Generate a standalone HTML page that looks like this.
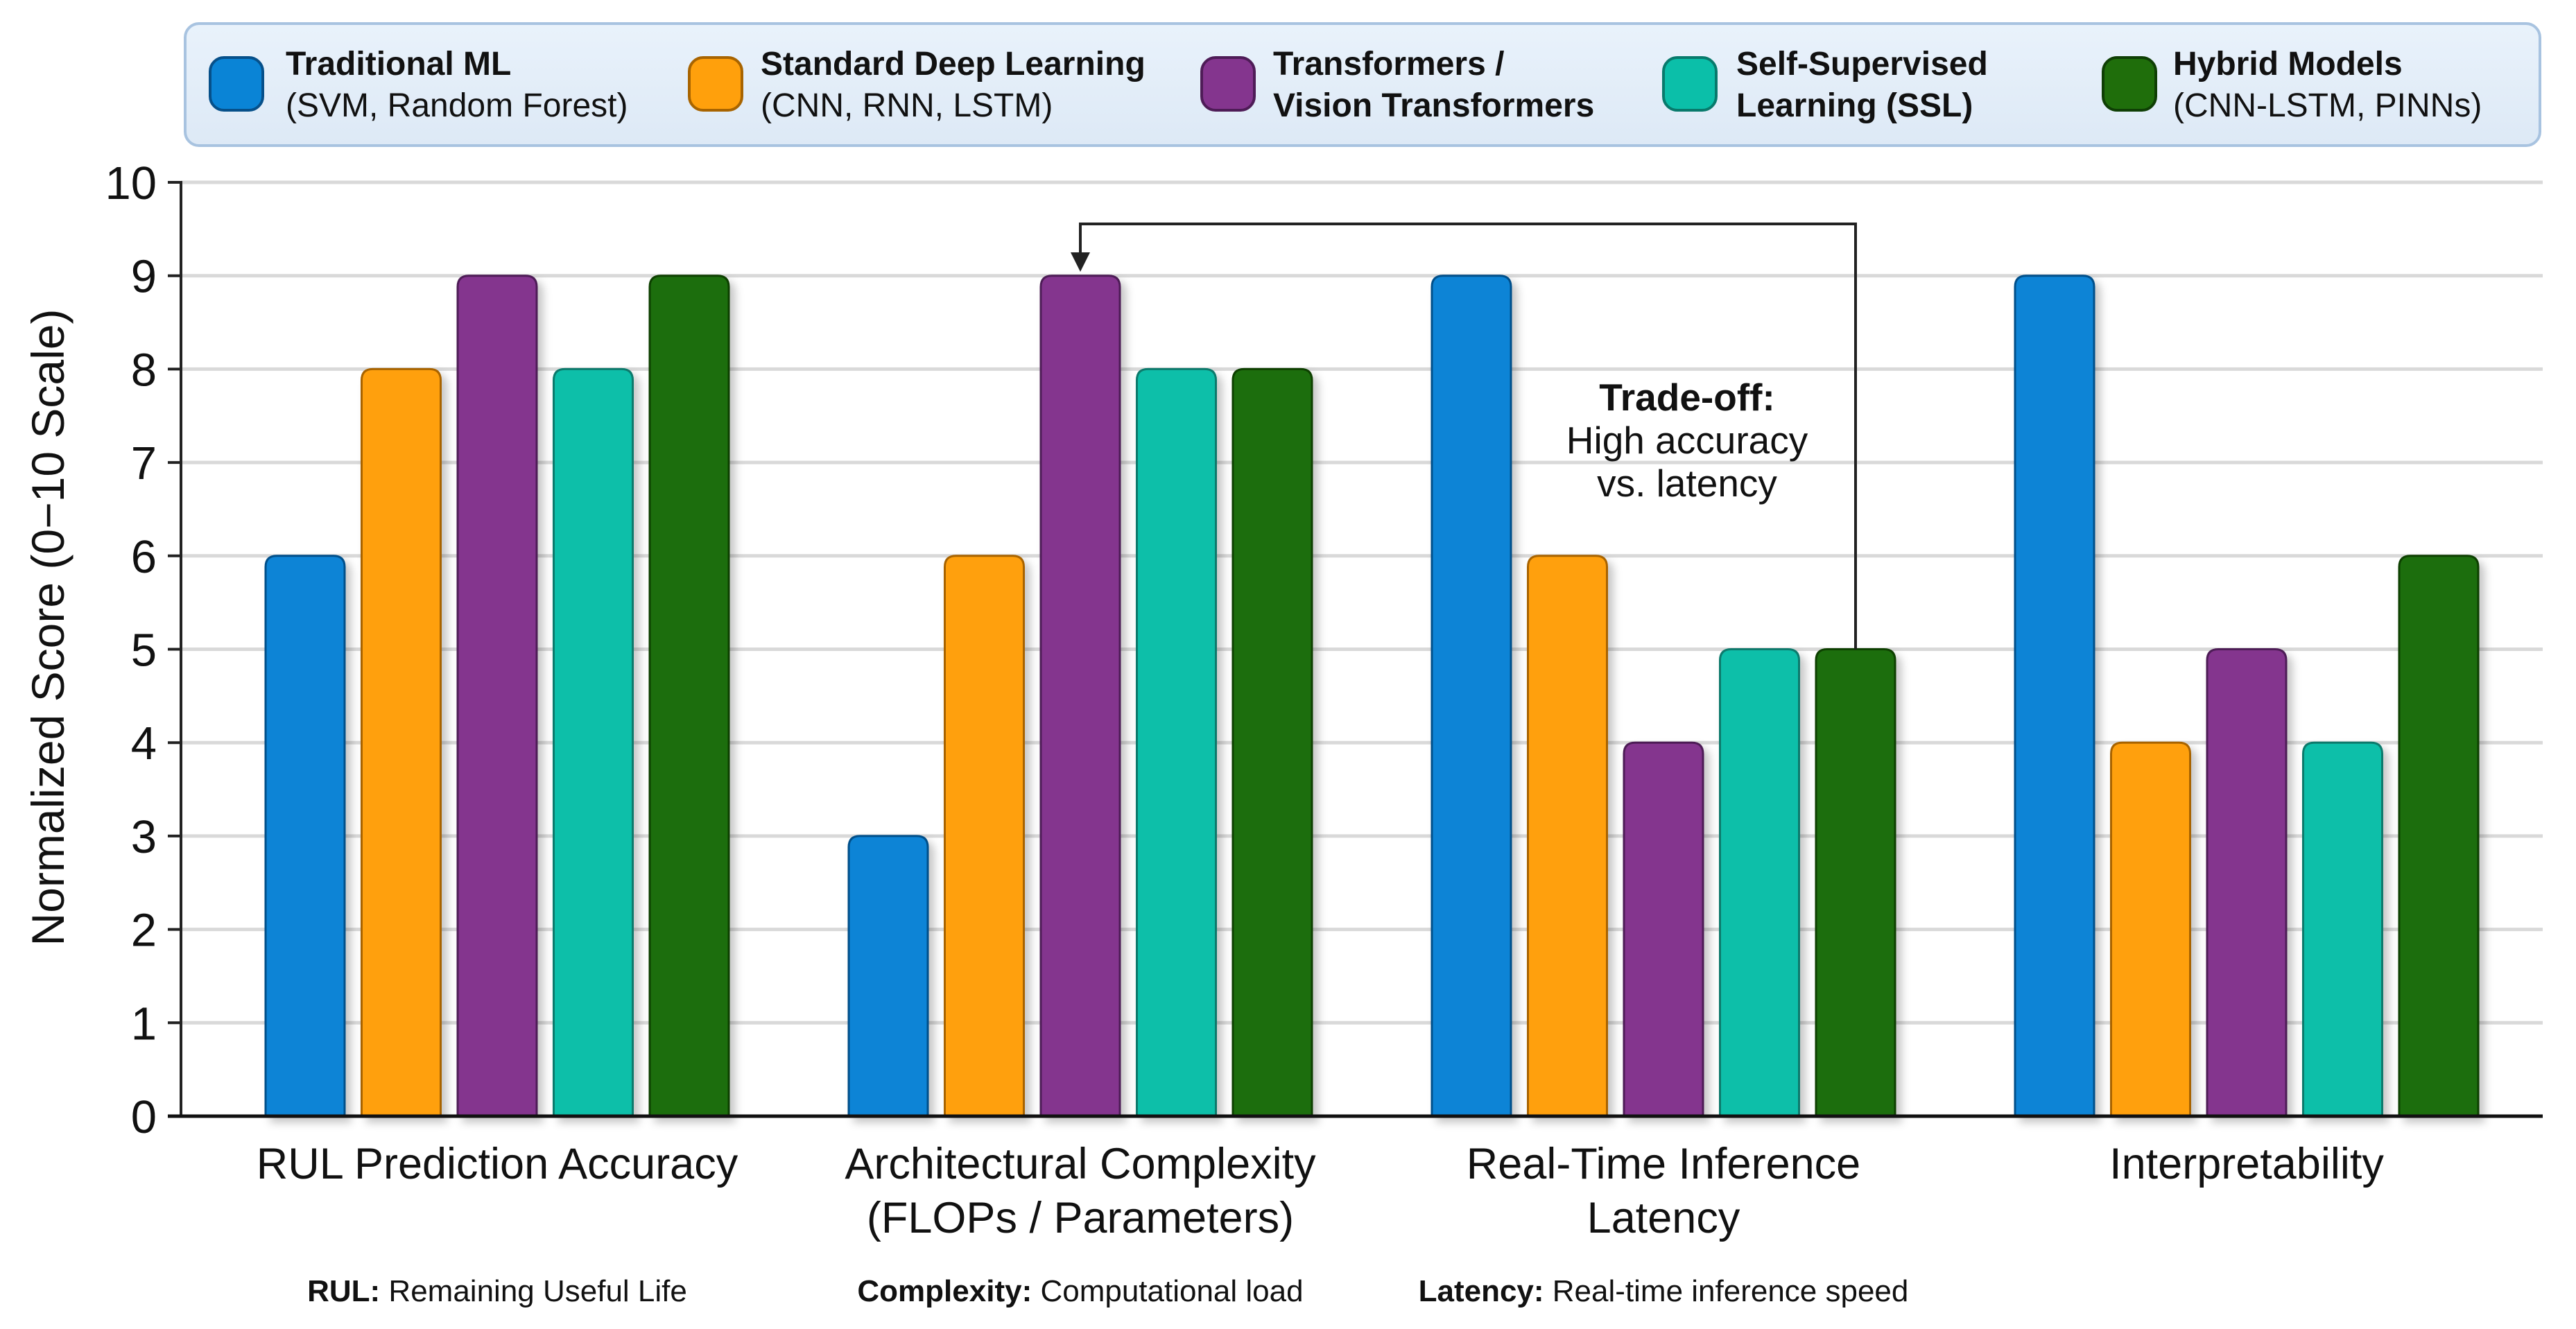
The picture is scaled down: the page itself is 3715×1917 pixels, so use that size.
<!DOCTYPE html>
<html><head><meta charset="utf-8"><style>
html,body{margin:0;padding:0;background:#fff;}
svg{display:block;font-family:"Liberation Sans",sans-serif;}
</style></head><body>
<svg id="chart" width="3715" height="1917" viewBox="0 0 3715 1917" xmlns="http://www.w3.org/2000/svg">
<defs>
<filter id="sh" x="-20%" y="-5%" width="150%" height="115%"><feDropShadow dx="8" dy="8" stdDeviation="6" flood-color="#000" flood-opacity="0.22"/></filter>
<linearGradient id="lg" x1="0" y1="0" x2="0" y2="1"><stop offset="0" stop-color="#e9f2fb"/><stop offset="1" stop-color="#dde9f6"/></linearGradient>
</defs>
<g id="grid"></g>
<g id="bars"></g>
<g id="axes"></g>
<g id="labels"></g>
<g id="legend"></g>
<g id="annot"></g>
</svg>
<script>
const categories = [["RUL Prediction Accuracy"],["Architectural Complexity","(FLOPs / Parameters)"],["Real-Time Inference","Latency"],["Interpretability"]];
const seriesNames = ["Traditional ML","Standard Deep Learning","Transformers /","Self-Supervised","Hybrid Models"];
const seriesSub = ["(SVM, Random Forest)","(CNN, RNN, LSTM)","Vision Transformers","Learning (SSL)","(CNN-LSTM, PINNs)"];
const seriesSubBold = [false,false,true,true,false];
const colors = ["#0a84d6","#ffa00c","#84358e","#0bbfa9","#1f6e0b"];
const strokes = ["#06508a","#a86400","#4e1c57","#087a6c","#0f3f05"];
const tradML = [6,3,9,9];
const stdDL = [8,6,6,4];
const transformers = [9,9,4,5];
const ssl = [8,8,5,4];
const hybrid = [9,8,5,6];
const yTicks = [0,1,2,3,4,5,6,7,8,9,10];
const footnotes = [["RUL:"," Remaining Useful Life"],["Complexity:"," Computational load"],["Latency:"," Real-time inference speed"]];

const NS="http://www.w3.org/2000/svg";
const series=[tradML,stdDL,transformers,ssl,hybrid];
const plotTop=263, plotBot=1610, yMax=10;
const y=v=>plotBot-(v/yMax)*(plotBot-plotTop);
const groupStart=383, groupStep=841, barStep=138.5, barW=114;
const x=(ci,si)=>groupStart+ci*groupStep+si*barStep;
const groupCenter=ci=>x(ci,0)+(4*barStep+barW)/2;
function mk(tag,attrs,parent){const e=document.createElementNS(NS,tag);for(const k in attrs)e.setAttribute(k,attrs[k]);parent.appendChild(e);return e;}
const G=id=>document.getElementById(id);

yTicks.forEach(t=>{
  const l=mk('line',{x1:261,x2:3667,y1:y(t),y2:y(t),stroke:'#d9d9d9','stroke-width':5},G('grid'));
  
  
  const tk=mk('line',{x1:242,x2:261,y1:y(t),y2:y(t),stroke:'#222','stroke-width':4},G('axes'));
  
  
  const tx=mk('text',{x:226,y:y(t)+24,'text-anchor':'end','font-size':67,fill:'#111'},G('axes'));
  tx.textContent=t;
  
  
});
const ya=mk('line',{x1:261,x2:261,y1:plotTop-2,y2:plotBot,stroke:'#222','stroke-width':4},G('axes'));


const xa=mk('line',{x1:242,x2:3667,y1:plotBot,y2:plotBot,stroke:'#111','stroke-width':5},G('axes'));


const yt=mk('text',{x:0,y:0,transform:'translate(92,905) rotate(-90)','text-anchor':'middle','font-size':66,fill:'#111'},G('axes'));
yt.textContent='Normalized Score (0\u221210 Scale)';



series.forEach((s,si)=>{s.forEach((v,ci)=>{
  const x0=x(ci,si), yt=y(v), r=16;
  const d=`M${x0},${plotBot} L${x0},${yt+r} Q${x0},${yt} ${x0+r},${yt} L${x0+barW-r},${yt} Q${x0+barW},${yt} ${x0+barW},${yt+r} L${x0+barW},${plotBot} Z`;
  const p=mk('path',{d:d,fill:colors[si],stroke:strokes[si],'stroke-width':3,filter:'url(#sh)'},G('bars'));
  
  
});});

categories.forEach((lines,ci)=>{
  lines.forEach((ln,li)=>{
    const t=mk('text',{x:groupCenter(ci),y:1700+li*78,'text-anchor':'middle','font-size':63,fill:'#111'},G('labels'));
    t.textContent=ln;
    
    
  });
});
footnotes.forEach((f,i)=>{
  const t=mk('text',{x:groupCenter(i),y:1877,'text-anchor':'middle','font-size':44,fill:'#111'},G('labels'));
  const b=mk('tspan',{'font-weight':'bold'},t); b.textContent=f[0];
  const r=mk('tspan',{},t); r.textContent=f[1];
  
  
});

const lg=G('legend');
const box=mk('rect',{x:267,y:34,width:3396,height:176,rx:20,fill:'url(#lg)',stroke:'#a8c3e0','stroke-width':4},lg);


const swX=[303,994,1733,2399,3033], txX=[412,1097,1836,2504,3134];
seriesNames.forEach((n,i)=>{
  const sw=mk('rect',{x:swX[i],y:83,width:76,height:76,rx:20,fill:colors[i],stroke:strokes[i],'stroke-width':4},lg);
  
  
  const t1=mk('text',{x:txX[i],y:108,'font-size':48,'font-weight':'bold',fill:'#111'},lg);
  t1.textContent=n;
  
  
  const t2=mk('text',{x:txX[i],y:168,'font-size':48,'font-weight':seriesSubBold[i]?'bold':'normal',fill:'#111'},lg);
  t2.textContent=seriesSub[i];
  
  
});

const an=G('annot');
const gx=x(2,4)+barW/2, px=x(1,2)+barW/2;
const pl=mk('polyline',{points:`${gx},${y(hybrid[2])} ${gx},323 ${px},323 ${px},372`,fill:'none',stroke:'#222','stroke-width':4},an);


const hd=mk('polygon',{points:`${px-14},364 ${px+14},364 ${px},392`,fill:'#222'},an);


[['Trade-off:',true,592],['High accuracy',false,654],['vs. latency',false,716]].forEach(a=>{
  const t=mk('text',{x:2433,y:a[2],'text-anchor':'middle','font-size':55,'font-weight':a[1]?'bold':'normal',fill:'#111'},an);
  t.textContent=a[0];
  
  
});
</script>
</body></html>
